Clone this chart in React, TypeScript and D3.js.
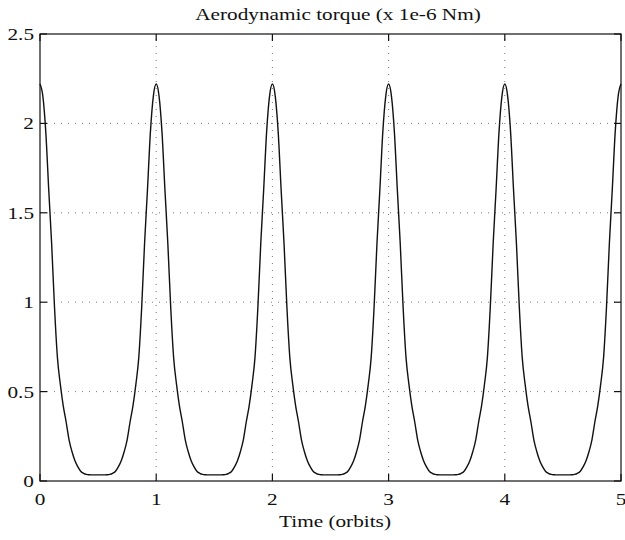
import React, { useEffect, useRef } from "react";
import * as d3 from "d3";

// Torque profile: value vs. distance (orbits) from the nearest peak,
// sampled every 0.025 orbit from 0 (peak) to 0.5 (valley).
const halfPeriodValues = [
  2.22, 2.15, 1.95, 1.63, 1.33, 0.97, 0.69, 0.54, 0.42, 0.33, 0.23,
  0.165, 0.115, 0.08, 0.055, 0.043, 0.037, 0.035, 0.034, 0.034, 0.034,
];
const sampleStep = 0.025;
const orbitStarts = [0, 1, 2, 3, 4];
const xTicks = [0, 1, 2, 3, 4, 5];
const yTicks = [0, 0.5, 1, 1.5, 2, 2.5];
const yTickLabels = ["0", "0.5", "1", "1.5", "2", "2.5"];
const titleText = "Aerodynamic torque (x 1e-6 Nm)";
const xLabelText = "Time (orbits)";

// One orbit: rising half mirrored from the read half profile.
const onePeriod: number[] = [
  ...halfPeriodValues,
  ...halfPeriodValues.slice(0, -1).reverse(),
];
const series: [number, number][] = [];
orbitStarts.forEach((o, oi) => {
  onePeriod.forEach((v, i) => {
    if (oi > 0 && i === 0) return;
    series.push([o + i * sampleStep, v]);
  });
});

export default function App() {
  const ref = useRef<SVGSVGElement>(null);
  useEffect(() => {
    const W = 625, H = 540;
    const m = { left: 40, right: 4, top: 34, bottom: 59 };
    const svg = d3.select(ref.current);
    svg.selectAll("*").remove();
    const x = d3.scaleLinear().domain([0, 5]).range([m.left, W - m.right]);
    const y = d3.scaleLinear().domain([0, 2.5]).range([H - m.bottom, m.top]);
    const font = "'Liberation Serif', 'DejaVu Serif', serif";
    const sx = 1.25; // horizontally stretched lettering, as in the scan

    const addText = (
      parent: d3.Selection<any, any, any, any>,
      tx: number, ty: number, s: string, anchor: string, size: number
    ) =>
      parent.append("text")
        .attr("transform", `translate(${tx},${ty}) scale(${sx},1)`)
        .attr("text-anchor", anchor).attr("font-family", font)
        .attr("font-size", size).attr("fill", "#111").text(s);

    svg.append("rect").attr("width", W).attr("height", H).attr("fill", "#fff");

    // grid
    const g = svg.append("g").attr("stroke", "#555").attr("stroke-width", 0.8)
      .attr("stroke-dasharray", "1,6");
    xTicks.slice(1, -1).forEach((t) => {
      g.append("line").attr("x1", x(t)).attr("x2", x(t)).attr("y1", y(0)).attr("y2", y(2.5));
    });
    yTicks.slice(1, -1).forEach((t) => {
      g.append("line").attr("x1", x(0)).attr("x2", x(5)).attr("y1", y(t)).attr("y2", y(t));
    });

    // frame
    svg.append("rect")
      .attr("x", x(0)).attr("y", y(2.5))
      .attr("width", x(5) - x(0)).attr("height", y(0) - y(2.5))
      .attr("fill", "none").attr("stroke", "#111").attr("stroke-width", 1.2);

    // ticks (inward, both sides)
    const tk = svg.append("g").attr("stroke", "#111").attr("stroke-width", 1.2);
    const tl = 7;
    xTicks.forEach((t) => {
      tk.append("line").attr("x1", x(t)).attr("x2", x(t)).attr("y1", y(0)).attr("y2", y(0) - tl);
      tk.append("line").attr("x1", x(t)).attr("x2", x(t)).attr("y1", y(2.5)).attr("y2", y(2.5) + tl);
    });
    yTicks.forEach((t) => {
      tk.append("line").attr("x1", x(0)).attr("x2", x(0) + tl).attr("y1", y(t)).attr("y2", y(t));
      tk.append("line").attr("x1", x(5)).attr("x2", x(5) - tl).attr("y1", y(t)).attr("y2", y(t));
    });

    // tick labels
    const xl = svg.append("g");
    xTicks.forEach((t) => addText(xl, x(t), y(0) + 24, String(t), "middle", 17));
    const yl = svg.append("g");
    yTicks.forEach((t, i) => addText(yl, x(0) - 6, y(t) + 6, yTickLabels[i], "end", 17));

    // curve
    const line = d3.line<[number, number]>().x((d) => x(d[0])).y((d) => y(d[1]))
      .curve(d3.curveMonotoneX);
    svg.append("path").datum(series).attr("d", line)
      .attr("fill", "none").attr("stroke", "#111").attr("stroke-width", 1.4);

    // titles
    addText(svg, 338, 20, titleText, "middle", 17);
    addText(svg, 335, 527, xLabelText, "middle", 17);
  }, []);
  return (
    <svg ref={ref} width={625} height={540}
      style={{ position: "absolute", left: 0, top: 0, display: "block" }} />
  );
}
